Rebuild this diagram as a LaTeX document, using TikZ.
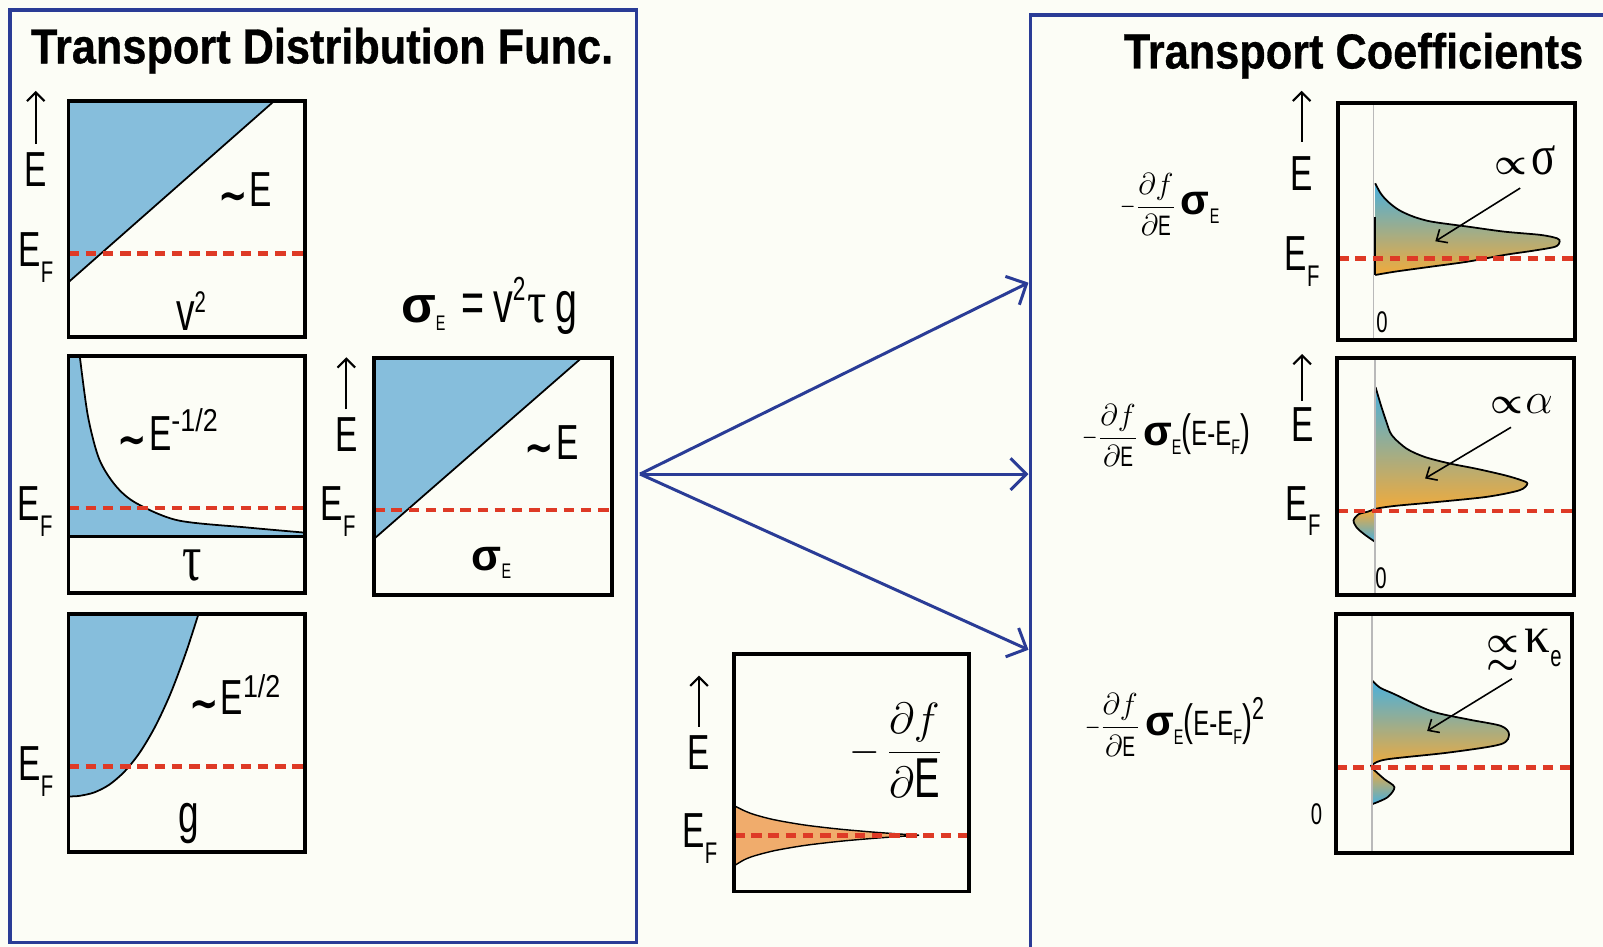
\documentclass[tikz,border=0pt]{standalone}
\usepackage{amsmath}
\usepackage{graphicx}
\usepackage{fontspec}
\setmainfont{Liberation Sans}
\newfontfamily\headfont[FakeStretch=0.88,FakeBold=0.6]{Liberation Sans}
\newfontfamily\condfont[FakeStretch=0.68]{Liberation Sans}
\newfontfamily\midfont[FakeStretch=0.85]{Liberation Sans}
\newfontfamily\symfont{Liberation Serif}
\newfontfamily\tildefont{DejaVu Sans}
\usetikzlibrary{arrows.meta}
\definecolor{bgcream}{RGB}{252,253,246}
\definecolor{panelblue}{RGB}{42,60,150}
\definecolor{tdfblue}{RGB}{134,190,220}
\definecolor{fermired}{RGB}{222,58,38}
\definecolor{fermiorange}{RGB}{240,172,108}
\definecolor{cblue}{RGB}{72,176,222}
\definecolor{corange}{RGB}{242,170,58}
\definecolor{zerogray}{RGB}{185,185,185}
% Beschriftungen
\newcommand{\EF}{E\raisebox{-9pt}{\fontsize{17}{17}\selectfont F}}
\newcommand{\sigE}[1]{{\rmfamily\bfseries\fontsize{#1}{#1}\selectfont σ}\raisebox{-5pt}{\condfont\fontsize{12}{12}\selectfont E}}
\newcommand{\negsign}[1]{\scalebox{#1}[1]{$-$}}
\newcommand{\dfdE}{$\dfrac{\partial f}{\partial\text{\condfont E}}$}
\newcommand{\EmEF}{{\fontsize{25}{25}\selectfont(}E-E\raisebox{-5pt}{\fontsize{12}{12}\selectfont F}{\fontsize{25}{25}\selectfont)}}
\newcommand{\simE}{\raisebox{-2pt}{\scalebox{0.8}[1]{\tildefont\bfseries\fontsize{25}{25}\selectfont\textasciitilde}}\hspace{1pt}E}
\newcommand{\tauglyph}[2]{\scalebox{#2}[1]{\symfont\fontsize{#1}{#1}\selectfont τ}}

\begin{document}
\begin{tikzpicture}[x=0.020446cm, y=-0.020446cm,
    panel/.style={draw=panelblue, line width=2pt},
    plotbox/.style={draw=black, line width=2.2pt},
    edge/.style={draw=black, line width=1pt},
    fermi/.style={draw=fermired, line width=2.6pt, dash pattern=on 6pt off 3.8pt},
    zeroline/.style={draw=zerogray, line width=1pt},
    flow/.style={draw=panelblue, line width=1.7pt, -{Straight Barb[length=9pt,width=18pt]}},
    pointer/.style={draw=black, line width=0.9pt, -{Straight Barb[length=5pt,width=9pt]}},
    eaxis/.style={draw=black, line width=1.2pt, -{Straight Barb[length=5pt,width=10pt]}},
    elbl/.style={inner sep=0pt, anchor=base west, font=\condfont\fontsize{28}{28}\selectfont},
    zerolbl/.style={inner sep=0pt, anchor=base west, font=\condfont\fontsize{17}{17}\selectfont},
    titlelbl/.style={inner sep=0pt, anchor=base, font=\headfont\bfseries\fontsize{28}{28}\selectfont},
    coeflbl/.style={inner sep=0pt, anchor=west, font=\fontsize{16}{16}\selectfont},
    proplbl/.style={inner sep=0pt, anchor=base west, font=\fontsize{22}{22}\selectfont}]
  % Hintergrund
  \fill[bgcream] (0,0) rectangle (1568,926);
  \useasboundingbox (0,0) rectangle (1568,926);
  % Rahmen
  \draw[panel] (10,9.8) rectangle (622.4,922);
  \draw[panel] (1575,14.7) -- (1008,14.7) -- (1008,935);
  \node[titlelbl] (titleL) at (315,62) {Transport Distribution Func.};
  \node[titlelbl] (titleR) at (1324,67) {Transport Coefficients};

  % v^2
  \fill[tdfblue] (67,99) -- (268,99) -- (67,276) -- cycle;
  \draw[edge] (268,99) -- (67,276);
  \draw[fermi] (67,248) -- (298,248);
  \draw[plotbox] (67,99) rectangle (298,330);
  \node[elbl] (eA) at (23.7,182.6) {E};
  \draw[eaxis] ([yshift=4.8pt]eA.north) -- ++(0,-52);
  \node[elbl] (efA) at (17.7,260.9) {\EF};
  \node[elbl] (simA) at (213,202.2) {\simE};
  \node[elbl, font=\condfont\fontsize{31}{31}\selectfont] (vsq) at (172,323) {v\raisebox{10pt}{\fontsize{17}{17}\selectfont 2}};

  % tau
  \fill[tdfblue] (67,348) -- plot[smooth] coordinates {(78,348) (86,407) (97,449) (113,475) (133,492) (174,509) (242,516) (298,521)} -- (298,525) -- (67,525) -- cycle;
  \draw[edge] plot[smooth] coordinates {(78,348) (86,407) (97,449) (113,475) (133,492) (174,509) (242,516) (298,521)};
  \draw[edge, line width=1.4pt] (67,525) -- (298,525);
  \draw[fermi] (67,497) -- (298,497);
  \draw[plotbox] (67,348) rectangle (298,580);
  \node[elbl] (simB) at (115,441) {\simE\raisebox{11pt}{\midfont\fontsize{18}{18}\selectfont -1/2}};
  \node[elbl] (tauB) at (178,568) {\tauglyph{38}{0.72}};
  \node[elbl] (efB) at (17,509) {\EF};

  % g
  \fill[tdfblue] (67,601) -- plot[smooth] coordinates {(194,601) (182,638) (167,678) (152,710.3) (137,735.7) (122,754.5) (107,767.5) (92,775.2) (77,778.6) (67,779)} -- cycle;
  \draw[edge] plot[smooth] coordinates {(194,601) (182,638) (167,678) (152,710.3) (137,735.7) (122,754.5) (107,767.5) (92,775.2) (77,778.6) (67,779)};
  \draw[fermi] (67,750) -- (298,750);
  \draw[plotbox] (67,601) rectangle (298,833);
  \node[elbl] (simC) at (185,699) {\simE\raisebox{10pt}{\midfont\fontsize{18}{18}\selectfont 1/2}};
  \node[elbl, font=\condfont\fontsize{31}{31}\selectfont] (gC) at (174.5,814) {g};
  \node[elbl] (efC) at (17.8,763.6) {\EF};

  % sigma_E
  \node[elbl, font=\condfont\fontsize{33}{33}\selectfont] (sigform) at (392,315) {\sigE{29}\hspace{9pt}=\hspace{5pt}v\raisebox{12pt}{\fontsize{19}{19}\selectfont 2}\hspace{1pt}\tauglyph{34}{0.8}\hspace{5pt}g};
  \fill[tdfblue] (366,350) -- (569,350) -- (366,527) -- cycle;
  \draw[edge] (569,350) -- (366,527);
  \draw[fermi] (366,499) -- (599,499);
  \draw[plotbox] (366,350) rectangle (599,582);
  \node[elbl] (eD) at (327.5,441.5) {E};
  \draw[eaxis] ([yshift=4.4pt]eD.north) -- ++(0,-51);
  \node[elbl] (efD) at (313.4,509) {\EF};
  \node[elbl] (simD) at (513,449) {\simE};
  \node[elbl] (sigD) at (461,557.6) {\sigE{25}};

  % -df/dE
  \path[fill=fermiorange, draw=black, line width=0.8pt] (718,788) -- plot[smooth] coordinates {(718,788) (728,793) (738.5,797) (758,802) (787,807) (821,811) (855,814) (883,816) (899,817)} -- plot[smooth] coordinates {(899,817) (883,818) (855,820) (821,823) (787,827) (758,832) (738.5,837) (728,841) (718,847)} -- cycle;
  \draw[fermi] (718,817) -- (948,817);
  \draw[plotbox] (718,640) rectangle (948,872);
  \node[inner sep=0pt, font=\fontsize{32}{32}\selectfont] (dfdE) at (876,734) {\negsign{0.9}\hspace{4pt}\dfdE};
  \node[elbl] (eE) at (672.5,753) {E};
  \draw[eaxis] ([yshift=5pt]eE.north) -- ++(0,-50);
  \node[elbl] (efE) at (667.4,829) {\EF};

  % Pfeile
  \coordinate (src) at (626,463.7);
  \coordinate (tgtA) at (1006,276.5);
  \coordinate (tgtB) at (1006,463.7);
  \coordinate (tgtC) at (1006,635.6);
  \foreach \t in {tgtA,tgtB,tgtC} \draw[flow] (src) -- (\t);

  % sigma
  \shade[top color=cblue, bottom color=corange] (1345.2,179.3) -- plot[smooth] coordinates {(1345.2,179.3) (1350.5,189.1) (1357.6,197.2) (1368.3,205.4) (1382.5,211.9) (1400.3,216.8) (1435.9,221.7) (1471.5,226.6) (1507,229.8) (1523,233.1) (1525.6,236.4) (1521.3,241.3) (1500,245.2) (1471.5,249.4) (1435.9,255.9) (1400.3,260.8) (1364.7,265.7) (1345.2,269)} -- cycle;
  \draw[edge] plot[smooth] coordinates {(1345.2,179.3) (1350.5,189.1) (1357.6,197.2) (1368.3,205.4) (1382.5,211.9) (1400.3,216.8) (1435.9,221.7) (1471.5,226.6) (1507,229.8) (1523,233.1) (1525.6,236.4) (1521.3,241.3) (1500,245.2) (1471.5,249.4) (1435.9,255.9) (1400.3,260.8) (1364.7,265.7) (1345.2,269)};
  \draw[edge] (1345.2,212) -- (1345.2,269);
  \draw[zeroline] (1343.4,101) -- (1343.4,333);
  \draw[fermi] (1309,252.7) -- (1541,252.7);
  \draw[plotbox] (1309,101) rectangle (1541,333);
  \node[coeflbl] (coefA) at (1096,200) {\negsign{0.65}\dfdE\hspace{3pt}\sigE{24}};
  \node[elbl] (eR1) at (1262,186) {E};
  \draw[eaxis] ([yshift=8pt]eR1.north) -- ++(0,-50);
  \node[elbl] (efR1) at (1256.4,264.4) {\EF};
  \node[zerolbl] (zeroA) at (1346,325) {0};
  \node[proplbl] (propA) at (1462,171) {$\boldsymbol{\propto}$\hspace{2pt}{\symfont\fontsize{32}{32}\selectfont\scalebox{0.8}[1]{σ}}};

  % alpha
  \shade[top color=cblue, bottom color=corange] (1345.5,378.6) -- plot[smooth] coordinates {(1345.5,378.6) (1350.8,396.5) (1356.2,412.8) (1361.5,425.8) (1375.8,438.8) (1393.7,447) (1418.6,453.5) (1443.6,458.4) (1472,464.9) (1488,469.7) (1494,473) (1486.5,479.5) (1454.3,486) (1400.8,491.5) (1365,494.8) (1347,497.4) (1345,499)} -- cycle;
  \shade[top color=corange, bottom color=cblue] (1345,499) -- plot[smooth] coordinates {(1345,499) (1338,500.5) (1329,503) (1324,509) (1327,516) (1335,523) (1345,530)} -- cycle;
  \draw[edge] plot[smooth] coordinates {(1345.5,378.6) (1350.8,396.5) (1356.2,412.8) (1361.5,425.8) (1375.8,438.8) (1393.7,447) (1418.6,453.5) (1443.6,458.4) (1472,464.9) (1488,469.7) (1494,473) (1486.5,479.5) (1454.3,486) (1400.8,491.5) (1365,494.8) (1347,497.4) (1338,500.5) (1329,503) (1324,509) (1327,516) (1335,523) (1345,530)};
  \draw[zeroline] (1344.8,350) -- (1344.8,582);
  \draw[fermi] (1308,499.7) -- (1540,499.7);
  \draw[plotbox] (1308,350) rectangle (1540,582);
  \node[coeflbl] (coefB) at (1059,426) {\negsign{0.65}\dfdE\hspace{3pt}\sigE{24}{\condfont\fontsize{20}{20}\selectfont\EmEF}};
  \node[elbl] (eR2) at (1262.5,432.3) {E};
  \draw[eaxis] ([yshift=3.8pt]eR2.north) -- ++(0,-46);
  \node[elbl] (efR2) at (1257.4,508.8) {\EF};
  \node[zerolbl] (zeroB) at (1345,575.5) {0};
  \node[proplbl] (propB) at (1458,404) {$\boldsymbol{\propto}$\hspace{1pt}{\fontsize{33}{33}\selectfont$\alpha$}};

  % kappa_e
  \shade[top color=cblue, bottom color=corange] (1342,665.5) -- plot[smooth] coordinates {(1342,665.5) (1350,672.7) (1364,679) (1400,695.6) (1436,703.7) (1468,710) (1476,718) (1468,728) (1418,736) (1357,742.7) (1343,747.6) (1342,751)} -- cycle;
  \shade[top color=corange, bottom color=cblue] (1342,751) -- plot[smooth] coordinates {(1342,751) (1354,762) (1364,770) (1357,780) (1342,786.7)} -- cycle;
  \draw[edge] plot[smooth] coordinates {(1342,665.5) (1350,672.7) (1364,679) (1400,695.6) (1436,703.7) (1468,710) (1476,718) (1468,728) (1418,736) (1357,742.7) (1343,747.6) (1342,751) (1354,762) (1364,770) (1357,780) (1342,786.7)};
  \draw[zeroline] (1341.7,601) -- (1341.7,834);
  \draw[fermi] (1307,751) -- (1538,751);
  \draw[plotbox] (1307,601) rectangle (1538,834);
  \node[coeflbl] (coefC) at (1061,709) {\negsign{0.65}\dfdE\hspace{3pt}\sigE{24}{\condfont\fontsize{20}{20}\selectfont\EmEF\raisebox{9pt}{\fontsize{18}{18}\selectfont 2}}};
  \node[zerolbl] (zeroC) at (1282,806.4) {0};
  \node[proplbl] (propC) at (1454,638) {$\underset{\displaystyle\boldsymbol{\sim}}{\boldsymbol{\propto}}$\hspace{3pt}{\symfont\fontsize{29}{29}\selectfont κ}\raisebox{-8pt}{\condfont\fontsize{17}{17}\selectfont e}};

  % Zeiger
  \coordinate (pA1) at (1487,184);   \coordinate (pA2) at (1404,236);
  \coordinate (pB1) at (1478,418);   \coordinate (pB2) at (1394,468);
  \coordinate (pC1) at (1479,664);   \coordinate (pC2) at (1396,715);
  \foreach \p in {pA,pB,pC} \draw[pointer] (\p1) -- (\p2);
\end{tikzpicture}
\end{document}
